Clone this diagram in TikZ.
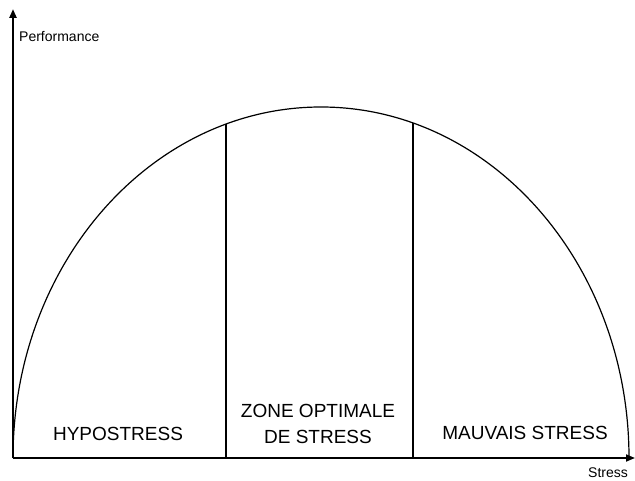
\documentclass[tikz,border=0pt]{standalone}
\usepackage{fontspec}
\setmainfont{Liberation Sans}
\usetikzlibrary{arrows.meta,calc,positioning}

\begin{document}
\begin{tikzpicture}[
  x=1pt, y=1pt,
  axis/.style={-{Triangle[length=9pt,width=7pt]}},
  curve/.style={line width=1.2pt},
  zone/.style={font=\fontsize{19}{26}\selectfont, align=center, inner sep=0pt},
  lbl/.style={font=\fontsize{14}{16}\selectfont, inner sep=0pt}
]
  \useasboundingbox (0,0) rectangle (635,480);

  % Axes
  \coordinate (o) at (13,22);
  \coordinate (ytop) at (13,471);
  \coordinate (xend) at (635,22);
  \draw[axis, line width=2.6pt] (o) -- (ytop);
  \draw[axis, line width=1.8pt] (o) -- (xend);

  % Performance curve
  \coordinate (c) at (321,22);
  \draw[curve] (o) arc[start angle=180, end angle=0, x radius=308, y radius=351];

  % Zone limits
  \coordinate (hl) at ($(c)+(107.96:308 and 351)$);
  \coordinate (hr) at ($(c)+(72.62:308 and 351)$);
  \draw[curve] (hl) -- (hl |- o);
  \draw[curve] (hr) -- (hr |- o);

  % Axis labels
  \node[lbl, anchor=west] (perf) at (19,443) {Performance};
  \node[lbl] (stress) at (608,7.5) {Stress};

  % Zones
  \node[zone, anchor=base] (hypo) at (118,39.3) {HYPOSTRESS};
  \node[zone] (optimale) at (318,56) {ZONE OPTIMALE\\DE STRESS};
  \node[zone, anchor=base] (mauvais) at (525,41) {MAUVAIS STRESS};
\end{tikzpicture}
\end{document}
